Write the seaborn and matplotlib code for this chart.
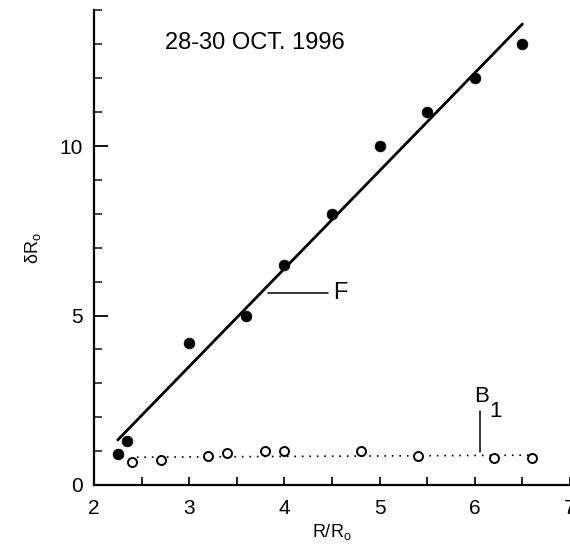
import matplotlib
matplotlib.use("Agg")
import matplotlib.pyplot as plt
from matplotlib.ticker import FixedLocator
import seaborn as sns
import pandas as pd

# ---- data ----
f_x = [2.25, 2.35, 3.0, 3.6, 4.0, 4.5, 5.0, 5.5, 6.0, 6.5]
f_y = [0.9, 1.3, 4.2, 5.0, 6.5, 8.0, 10.0, 11.0, 12.0, 13.0]
b_x = [2.4, 2.7, 3.2, 3.4, 3.8, 4.0, 4.8, 5.4, 6.2, 6.6]
b_y = [0.67, 0.75, 0.87, 0.94, 0.99, 0.99, 0.99, 0.86, 0.81, 0.81]
fit_f_x = [2.25, 6.5]
fit_f_y = [1.33, 13.6]
fit_b_x = [2.45, 6.6]
fit_b_y = [0.82, 0.88]
title_text = "28-30 OCT. 1996"
x_ticks = [2, 3, 4, 5, 6, 7]
y_ticks = [0, 5, 10]

sns.set_theme(style="white")
plt.rcParams["font.family"] = ["Liberation Sans", "DejaVu Sans"]
plt.rcParams["mathtext.fontset"] = "custom"
plt.rcParams["mathtext.rm"] = "Liberation Sans"

fig = plt.figure(figsize=(5.7, 5.48), dpi=100)
ax = fig.add_axes([94 / 570, 1 - 485 / 548, 1 - 94 / 570, (485 - 10.4) / 548])

df_f = pd.DataFrame({"x": f_x, "y": f_y})
df_b = pd.DataFrame({"x": b_x, "y": b_y})
df_ff = pd.DataFrame({"x": fit_f_x, "y": fit_f_y})
df_fb = pd.DataFrame({"x": fit_b_x, "y": fit_b_y})

sns.lineplot(data=df_ff, x="x", y="y", ax=ax, color="black", linewidth=2.0,
             estimator=None, sort=False)
sns.lineplot(data=df_fb, x="x", y="y", ax=ax, color="black", linewidth=1.2,
             linestyle=(0, (1, 3.5)), estimator=None, sort=False)
sns.scatterplot(data=df_f, x="x", y="y", ax=ax, color="black", s=60,
                edgecolor="black", linewidth=0.5, zorder=3)
sns.scatterplot(data=df_b, x="x", y="y", ax=ax, facecolor="white", s=42,
                edgecolor="black", linewidth=1.4, zorder=3)

ax.set_xlim(2, 7)
ax.set_ylim(0, 14)

for s in ["top", "right"]:
    ax.spines[s].set_visible(False)
for s in ["left", "bottom"]:
    ax.spines[s].set_linewidth(1.6)
    ax.spines[s].set_color("black")

ax.xaxis.set_major_locator(FixedLocator(x_ticks))
ax.xaxis.set_minor_locator(FixedLocator([2.5, 3.5, 4.5, 5.5, 6.5]))
ax.yaxis.set_major_locator(FixedLocator(y_ticks))
ax.yaxis.set_minor_locator(FixedLocator([1, 2, 3, 4, 6, 7, 8, 9, 11, 12, 13, 14]))
ax.set_xticklabels([str(t) for t in x_ticks])
ax.set_yticklabels([str(t) for t in y_ticks])

ax.tick_params(axis="x", which="both", direction="in", length=5.5, width=1.2,
               labelsize=15, pad=10, colors="black", bottom=True)
ax.tick_params(axis="y", which="major", direction="in", length=10, width=1.3,
               labelsize=15, pad=8, colors="black", left=True)
ax.tick_params(axis="y", which="minor", direction="in", length=6, width=1.2,
               left=True)

ax.set_xlabel(r"R/R$_{\mathrm{o}}$", fontsize=13, labelpad=3, color="black")
ax.set_ylabel(r"δR$_{\mathrm{o}}$", fontsize=13, labelpad=12, color="black")

ax.text(2.747, 13.03, title_text, fontsize=17, ha="left", va="center",
        color="black")

# F label
ax.plot([3.83, 4.46], [5.65, 5.65], color="black", linewidth=1.1)
ax.text(4.51, 5.65, "F", fontsize=17, ha="left", va="center", color="black")

# B1 label
ax.plot([6.05, 6.05], [0.98, 2.19], color="black", linewidth=1.1)
ax.text(6.07, 2.6, "B", fontsize=16, ha="center", va="center", color="black")
ax.text(6.22, 2.16, "1", fontsize=16, ha="center", va="center", color="black")

fig.savefig("out.png", dpi=100)
